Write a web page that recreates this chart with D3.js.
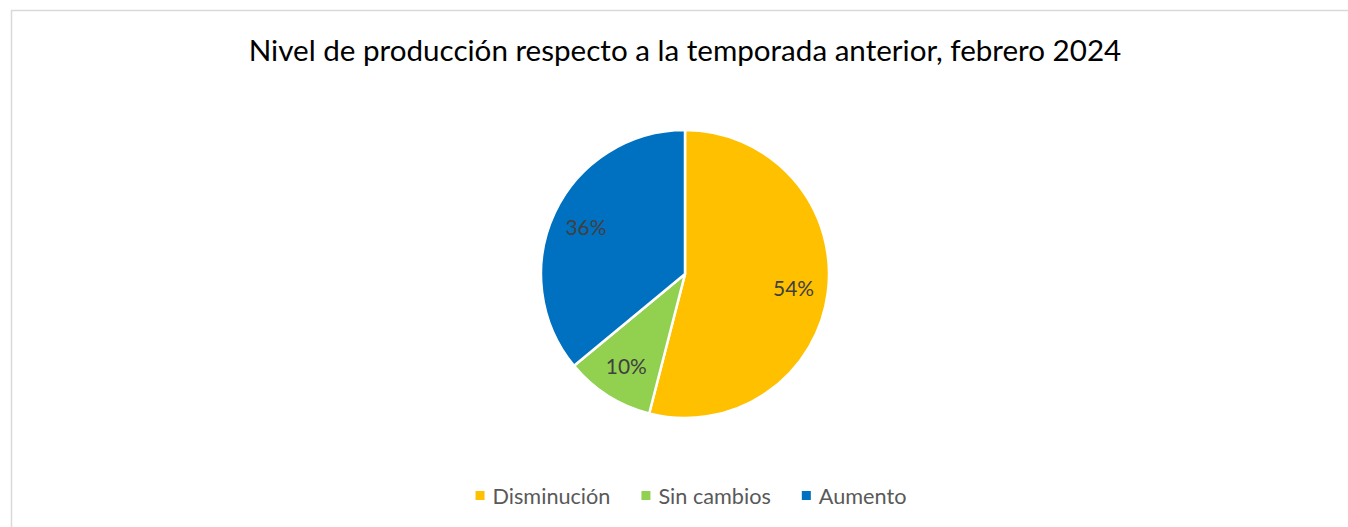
<!DOCTYPE html>
<html>
  <head>
    <meta charset="utf-8">
    <script src="https://cdn.jsdelivr.net/npm/d3@7"></script>
    <style>
      body { margin: 0; background: #fff; }
      text { font-family: Lato, "Open Sans", sans-serif; }
    </style>
  </head>
  <body>
    <div id='chart'></div>
    <script>

    var title = 'Nivel de producción respecto a la temporada anterior, febrero 2024';
    var categories = ['Disminución', 'Sin cambios', 'Aumento'];
    var values = [54, 10, 36];
    var colors = ['#FFC000', '#92D050', '#0070C0'];

    var width = 1348, height = 527;
    var cx = 685, cy = 274, r = 144;

    var svg = d3.select('#chart').append('svg')
        .attr('width', width)
        .attr('height', height);

    // chart frame
    svg.append('rect')
        .attr('x', 11.5).attr('y', 10.5)
        .attr('width', width).attr('height', height)
        .attr('fill', '#fff')
        .attr('stroke', '#d9d9d9')
        .attr('stroke-width', 1.5);

    var t = svg.append('text')
        .attr('x', cx)
        .attr('y', 61)
        .attr('text-anchor', 'middle')
        .attr('fill', '#000')
        .style('font-size', '25px')
        .text(title);
    // fit title width to reference
    var tw = t.node().getComputedTextLength();
    t.style('font-size', (25 * 873 / tw) + 'px');

    var pie = d3.pie().sort(null).value(function(d) { return d; });
    var arcs = pie(values);
    var arc = d3.arc().innerRadius(0).outerRadius(r);

    var g = svg.append('g').attr('transform', 'translate(' + cx + ',' + cy + ')');

    g.selectAll('path')
        .data(arcs)
        .enter()
        .append('path')
        .attr('d', arc)
        .attr('fill', function(d, i) { return colors[i]; })
        .attr('stroke', '#fff')
        .attr('stroke-width', 2.5)
        .attr('stroke-linejoin', 'round');

    var labelArc = d3.arc().innerRadius(r * 0.76).outerRadius(r * 0.76);
    var lbls = g.selectAll('.lbl')
        .data(arcs)
        .enter()
        .append('text')
        .attr('class', 'lbl')
        .attr('transform', function(d) {
          var c = labelArc.centroid(d);
          return 'translate(' + c[0] + ',' + (c[1] + 8) + ')';
        })
        .attr('text-anchor', 'middle')
        .attr('fill', '#404040')
        .style('font-size', '20px')
        .text(function(d) { return d.data + '%'; });
    var lw = lbls.node().getComputedTextLength();
    lbls.style('font-size', (20 * 41 / lw) + 'px');

    // legend
    var legend = svg.append('g');
    var items = legend.selectAll('g')
        .data(categories)
        .enter()
        .append('g');

    items.append('rect')
        .attr('width', 9).attr('height', 9)
        .attr('y', -13)
        .attr('fill', function(d, i) { return colors[i]; });

    var legText = items.append('text')
        .attr('x', 17)
        .attr('fill', '#595959')
        .style('font-size', '20px')
        .text(function(d) { return d; });
    var dw = legText.node().getComputedTextLength();
    legText.style('font-size', (20 * 118 / dw) + 'px');

    var x = 0, gap = 31;
    items.each(function() {
      var w = d3.select(this).select('text').node().getComputedTextLength() + 17;
      d3.select(this).attr('transform', 'translate(' + x + ',0)');
      x += w + gap;
    });
    var total = x - gap;
    legend.attr('transform', 'translate(' + (691 - total / 2) + ',504)');

    </script>
  </body>
</html>
